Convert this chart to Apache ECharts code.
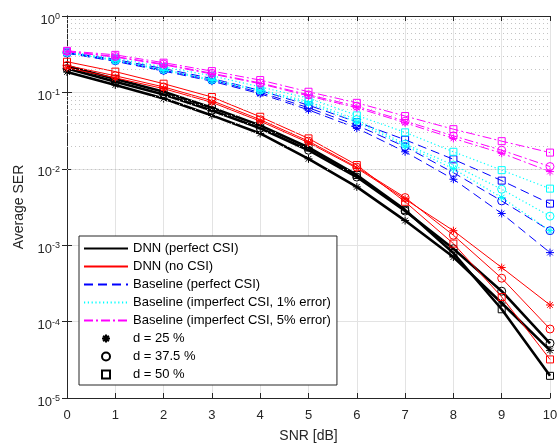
<!DOCTYPE html>
<html>
<head>
<meta charset="utf-8">
<script src="https://cdn.jsdelivr.net/npm/echarts@6/dist/echarts.min.js"></script>
<style>html,body{margin:0;padding:0;background:#fff}#c{width:557px;height:445px}</style>
</head>
<body>
<div id="c"></div>
<script>
// ---- data ----
const snr = [0, 1, 2, 3, 4, 5, 6, 7, 8, 9, 10];
const yTicks = [1e-5, 1e-4, 1e-3, 1e-2, 1e-1, 1];
// DNN (perfect CSI)
const dnnPerfect25  = [0.185, 0.125, 0.083, 0.050, 0.029, 0.0135, 0.0058, 0.0021, 7.0e-4, 1.75e-4, 4.2e-5];
const dnnPerfect375 = [0.205, 0.138, 0.094, 0.058, 0.034, 0.0175, 0.0078, 0.0028, 9.0e-4, 2.5e-4, 5.2e-5];
const dnnPerfect50  = [0.222, 0.150, 0.102, 0.063, 0.037, 0.0190, 0.0083, 0.0029, 7.9e-4, 1.45e-4, 1.95e-5];
// DNN (no CSI)
const dnnNo25  = [0.210, 0.155, 0.112, 0.074, 0.042, 0.0220, 0.0102, 0.0040, 1.55e-3, 5.1e-4, 1.65e-4];
const dnnNo375 = [0.225, 0.165, 0.118, 0.078, 0.044, 0.0230, 0.0105, 0.0042, 1.35e-3, 3.7e-4, 8.0e-5];
const dnnNo50  = [0.252, 0.187, 0.130, 0.087, 0.048, 0.0250, 0.0112, 0.0037, 1.05e-3, 2.1e-4, 3.2e-5];
// Baseline (perfect CSI)
const basePerfect25  = [0.325, 0.255, 0.190, 0.140, 0.096, 0.059, 0.034, 0.0167, 0.0073, 0.0026, 0.0008];
const basePerfect375 = [0.330, 0.260, 0.195, 0.145, 0.100, 0.063, 0.037, 0.0195, 0.0089, 0.0038, 0.00155];
const basePerfect50  = [0.335, 0.270, 0.205, 0.152, 0.106, 0.068, 0.041, 0.0240, 0.0133, 0.0070, 0.0035];
// Baseline (imperfect CSI, 1% error)
const baseErr1_25  = [0.330, 0.260, 0.195, 0.143, 0.104, 0.072, 0.041, 0.0200, 0.0100, 0.0042, 0.00155];
const baseErr1_375 = [0.335, 0.265, 0.200, 0.148, 0.108, 0.076, 0.044, 0.0210, 0.0112, 0.0054, 0.0024];
const baseErr1_50  = [0.340, 0.280, 0.215, 0.165, 0.118, 0.084, 0.050, 0.0300, 0.0167, 0.0096, 0.0055];
// Baseline (imperfect CSI, 5% error)
const baseErr5_25  = [0.340, 0.290, 0.230, 0.174, 0.130, 0.090, 0.063, 0.040, 0.025, 0.0160, 0.0092];
const baseErr5_375 = [0.345, 0.295, 0.235, 0.178, 0.133, 0.093, 0.066, 0.042, 0.027, 0.0175, 0.0107];
const baseErr5_50  = [0.350, 0.310, 0.245, 0.190, 0.145, 0.102, 0.073, 0.049, 0.033, 0.0230, 0.0163];

const legendNames = ['DNN (perfect CSI)', 'DNN (no CSI)', 'Baseline (perfect CSI)',
  'Baseline (imperfect CSI, 1% error)', 'Baseline (imperfect CSI, 5% error)',
  'd = 25 %', 'd = 37.5 %', 'd = 50 %'];

// ---- styles ----
const STAR = 'path://M0,-10L0,10M-10,0L10,0M-7.07,-7.07L7.07,7.07M-7.07,7.07L7.07,-7.07';
const markers = [
  {symbol: STAR, size: 8},
  {symbol: 'circle', size: 8},
  {symbol: 'rect', size: 7}
];
const styles = [
  {color: '#000000', width: 2.6, type: 'solid'},
  {color: '#ff0000', width: 1, type: 'solid'},
  {color: '#0000ff', width: 1, type: [9, 5]},
  {color: '#00ffff', width: 1.2, type: [1.2, 2.6]},
  {color: '#ff00ff', width: 1, type: [9, 3, 2, 3]}
];
const groups = [
  [dnnPerfect25, dnnPerfect375, dnnPerfect50],
  [dnnNo25, dnnNo375, dnnNo50],
  [basePerfect25, basePerfect375, basePerfect50],
  [baseErr1_25, baseErr1_375, baseErr1_50],
  [baseErr5_25, baseErr5_375, baseErr5_50]
];

const series = [];
// minor dotted grid lines
const minorVals = [];
for (let e = -5; e < 0; e++) for (let k = 2; k <= 9; k++) minorVals.push(k * Math.pow(10, e));
series.push({
  name: '_grid', type: 'line', data: [], silent: true, z: 0,
  markLine: {
    silent: true, symbol: ['none', 'none'], label: {show: false},
    lineStyle: {type: [1, 3], color: '#c4c4c4', width: 1},
    emphasis: {disabled: true},
    animation: false,
    data: minorVals.map(v => ({yAxis: v}))
  }
});

groups.forEach((g, gi) => {
  const st = styles[gi];
  g.forEach((vals, mi) => {
    const mk = markers[mi];
    series.push({
      name: legendNames[gi] + '#' + mi,
      type: 'line',
      data: snr.map((x, i) => [x, vals[i]]),
      symbol: mk.symbol, symbolSize: mk.size, showAllSymbol: true,
      lineStyle: {color: st.color, width: st.width, type: st.type},
      itemStyle: {color: 'rgba(0,0,0,0)', borderColor: st.color, borderWidth: 1},
      emphasis: {disabled: true}, z: 2 + gi
    });
  });
});

// legend-only series
styles.forEach((st, gi) => {
  series.push({
    name: legendNames[gi], type: 'line', data: [], symbol: 'none',
    lineStyle: {color: st.color, width: st.width, type: st.type},
    itemStyle: {color: 'rgba(0,0,0,0)', borderColor: 'rgba(0,0,0,0)', borderWidth: 0}
  });
});
markers.forEach((mk, mi) => {
  series.push({
    name: legendNames[5 + mi], type: 'line', data: [], symbol: mk.symbol, symbolSize: mk.size,
    lineStyle: {color: '#000', width: 0, opacity: 0},
    itemStyle: {color: 'rgba(0,0,0,0)', borderColor: '#000', borderWidth: 1}
  });
});

const axisCol = '#262626';
const font = 'Liberation Sans, Arial, sans-serif';

const option = {
  animation: false,
  backgroundColor: '#ffffff',
  textStyle: {fontFamily: font},
  grid: {left: 67, right: 7, top: 16, bottom: 47, containLabel: false, outerBoundsMode: 'none'},
  legend: {
    data: legendNames,
    orient: 'vertical', left: 79, top: 236,
    itemWidth: 44, itemHeight: 10, itemGap: 5,
    padding: [6, 6, 4, 4],
    backgroundColor: '#ffffff', borderColor: axisCol, borderWidth: 1, borderRadius: 0,
    textStyle: {fontSize: 13, color: '#000', fontFamily: font},
    selectedMode: false
  },
  xAxis: [{
    type: 'value', min: 0, max: 10, interval: 1,
    name: 'SNR [dB]', nameLocation: 'middle', nameGap: 31,
    nameTextStyle: {fontSize: 14, color: axisCol, fontFamily: font},
    axisLine: {show: true, lineStyle: {color: axisCol, width: 1}},
    axisTick: {show: true, inside: true, length: 5, lineStyle: {color: axisCol}},
    axisLabel: {fontSize: 13, color: axisCol, margin: 11, fontFamily: font, showMinLabel: true, showMaxLabel: true},
    splitLine: {show: true, lineStyle: {color: '#e3e3e3', width: 1}}
  }, {
    type: 'value', min: 0, max: 10, interval: 1, position: 'top',
    axisLine: {show: true, lineStyle: {color: axisCol, width: 1}},
    axisTick: {show: true, inside: true, length: 5, lineStyle: {color: axisCol}},
    axisLabel: {show: false}, splitLine: {show: false}
  }],
  yAxis: [{
    type: 'log', logBase: 10, min: yTicks[0], max: yTicks[yTicks.length - 1], splitNumber: 5,
    name: 'Average SER', nameLocation: 'middle', nameGap: 41,
    nameTextStyle: {fontSize: 14, color: axisCol, fontFamily: font},
    axisLine: {show: true, lineStyle: {color: axisCol, width: 1}},
    axisTick: {show: true, inside: true, length: 5, lineStyle: {color: axisCol}},
    axisLabel: {
      color: axisCol, margin: 7, fontFamily: font, showMinLabel: true, showMaxLabel: true,
      padding: [8, 0, 0, 0],
      formatter: v => '{b|10}{s|' + Math.round(Math.log10(v)) + '}',
      rich: {
        b: {fontSize: 13, color: axisCol, fontFamily: font},
        s: {fontSize: 9, color: axisCol, fontFamily: font, padding: [0, 0, 7, 0]}
      }
    },
    splitLine: {show: true, lineStyle: {color: '#e3e3e3', width: 1}}
  }, {
    type: 'log', logBase: 10, min: yTicks[0], max: yTicks[yTicks.length - 1], splitNumber: 5, position: 'right',
    axisLine: {show: true, lineStyle: {color: axisCol, width: 1}},
    axisTick: {show: true, inside: true, length: 5, lineStyle: {color: axisCol}},
    axisLabel: {show: false}, splitLine: {show: false}
  }],
  series: series
};

const chart = echarts.init(document.getElementById('c'), null, {renderer: 'canvas'});
chart.setOption(option);
</script>
</body>
</html>
